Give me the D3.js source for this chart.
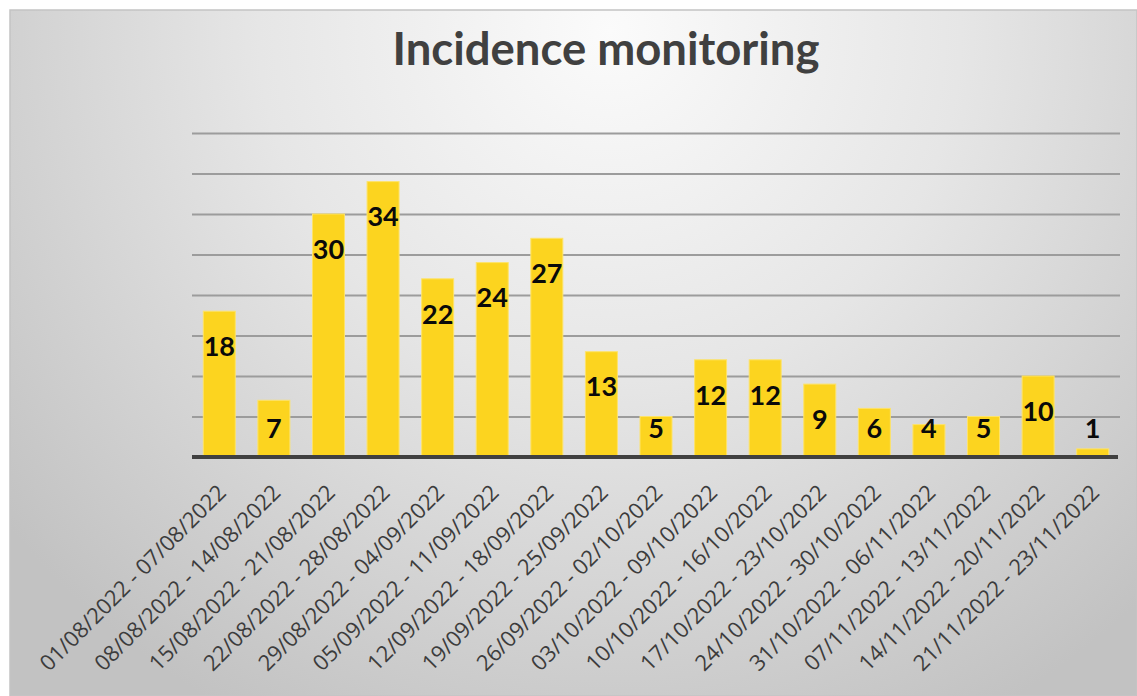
<!DOCTYPE html>
<html>
<head>
<meta charset="utf-8">
<script src="https://cdn.jsdelivr.net/npm/d3@7/dist/d3.min.js"></script>
<style>
  html, body { margin: 0; padding: 0; background: #ffffff; }
  svg { display: block; }
</style>
</head>
<body>
<svg id="chart" width="1137" height="696"></svg>
<script>
const title = "Incidence monitoring";
const categories = [
  "01/08/2022 - 07/08/2022", "08/08/2022 - 14/08/2022", "15/08/2022 - 21/08/2022",
  "22/08/2022 - 28/08/2022", "29/08/2022 - 04/09/2022", "05/09/2022 - 11/09/2022",
  "12/09/2022 - 18/09/2022", "19/09/2022 - 25/09/2022", "26/09/2022 - 02/10/2022",
  "03/10/2022 - 09/10/2022", "10/10/2022 - 16/10/2022", "17/10/2022 - 23/10/2022",
  "24/10/2022 - 30/10/2022", "31/10/2022 - 06/11/2022", "07/11/2022 - 13/11/2022",
  "14/11/2022 - 20/11/2022", "21/11/2022 - 23/11/2022"
];
const values = [18, 7, 30, 34, 22, 24, 27, 13, 5, 12, 12, 9, 6, 4, 5, 10, 1];
const yDomain = [0, 40];
const gridValues = [5, 10, 15, 20, 25, 30, 35, 40];

const W = 1137, H = 696;
const svg = d3.select("#chart");
const defs = svg.append("defs");
const grad = defs.append("radialGradient")
  .attr("id", "bg").attr("gradientUnits", "userSpaceOnUse")
  .attr("cx", 610).attr("cy", 30).attr("r", 780)
  .attr("fx", 610).attr("fy", 30);
grad.append("stop").attr("offset", "0").attr("stop-color", "#fbfbfb");
grad.append("stop").attr("offset", "0.45").attr("stop-color", "#e6e6e6");
grad.append("stop").attr("offset", "1").attr("stop-color", "#c2c2c2");

svg.append("rect").attr("x", 10).attr("y", 10).attr("width", W - 10).attr("height", H - 10)
  .attr("fill", "url(#bg)").attr("stroke", "#c4c4c4").attr("stroke-width", 1.5);

const plot = { left: 192, right: 1120, top: 133, bottom: 457 };
const x = d3.scaleBand().domain(categories).range([plot.left, plot.right])
  .paddingInner(0.414).paddingOuter(0.207);
const y = d3.scaleLinear().domain(yDomain).range([plot.bottom, plot.top]);

// gridlines
const yAxis = d3.axisLeft(y).tickValues(gridValues).tickSize(-(plot.right - plot.left)).tickFormat("");
const gGrid = svg.append("g").attr("transform", `translate(${plot.left},0)`).call(yAxis);
gGrid.select(".domain").remove();
gGrid.selectAll(".tick line").attr("stroke", "#9c9c9c").attr("stroke-width", 2);

// bars
svg.append("g").selectAll("rect").data(values).join("rect")
  .attr("x", (d, i) => x(categories[i]))
  .attr("y", d => y(d))
  .attr("width", x.bandwidth())
  .attr("height", d => y(0) - y(d))
  .attr("fill", "#fcd41f")
  .attr("stroke", "#fde36a").attr("stroke-width", 1);

// baseline / x axis
const xAxis = d3.axisBottom(x).tickSize(0).tickPadding(0);
const gX = svg.append("g").attr("transform", `translate(0,${plot.bottom})`).call(xAxis);
gX.select(".domain").attr("stroke", "#404040").attr("stroke-width", 4)
  .attr("d", `M${plot.left},0H${plot.right - 2}`);
gX.selectAll(".tick text")
  .attr("font-family", "'Open Sans', sans-serif")
  .attr("font-size", 22)
  .attr("fill", "#3c3c3c")
  .attr("text-anchor", "end")
  .attr("y", 0).attr("dy", 0)
  .attr("transform", "translate(8,37) rotate(-45)");

// value labels
svg.append("g").selectAll("text").data(values).join("text")
  .attr("x", (d, i) => x(categories[i]) + x.bandwidth() / 2)
  .attr("y", d => Math.min(y(d) + 35, 428))
  .attr("dy", "0.36em")
  .attr("text-anchor", "middle")
  .attr("font-family", "Lato, sans-serif")
  .attr("font-weight", "bold")
  .attr("font-size", 27)
  .attr("fill", "#0a0a0a")
  .text(d => d);

// title
const t = svg.append("text")
  .attr("x", 606).attr("y", 65)
  .attr("text-anchor", "middle")
  .attr("font-family", "Lato, sans-serif")
  .attr("font-weight", "bold")
  .attr("font-size", 44)
  .attr("fill", "#404040")
  .text(title);
const tw = t.node().getComputedTextLength();
t.attr("font-size", 44 * 427 / tw);
</script>
</body>
</html>
